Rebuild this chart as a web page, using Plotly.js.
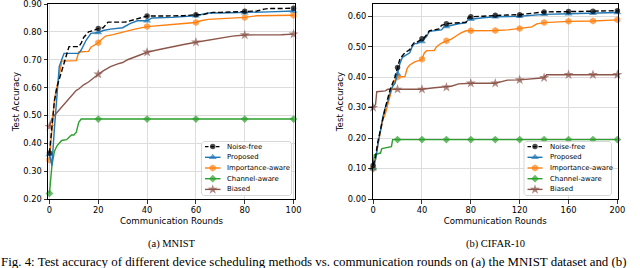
<!DOCTYPE html>
<html>
<head>
<meta charset="utf-8">
<script src="https://cdn.plot.ly/plotly-3.0.1.min.js"></script>
<style>
  html, body { margin: 0; padding: 0; background: #fff; }
  #chart { width: 640px; height: 268px; }
</style>
</head>
<body>
<div id="chart"></div>
<script>
// ---------------- DATA ----------------
var seriesNames = ["Noise-free", "Proposed", "Importance-aware", "Channel-aware", "Biased"];

// (a) MNIST
var mnNoiseX = [0,1,2,3,4,5,6,7,8,12,13,14,15,16,18,20,22,23,24,31,33,35,40,45,50,55,60,63,65,67,70,75,80,85,88,90,95,100];
var mnNoiseY = [0.365,0.45,0.55,0.60,0.63,0.66,0.69,0.72,0.747,0.747,0.76,0.78,0.79,0.80,0.805,0.812,0.815,0.825,0.835,0.835,0.84,0.845,0.857,0.857,0.858,0.858,0.862,0.862,0.867,0.87,0.87,0.872,0.874,0.875,0.882,0.884,0.884,0.885];

var mnPropX = [0,1,2,3,4,5,6,8,10,12,13,15,17,20,22,25,30,33,36,40,42,50,60,62,65,70,80,90,100];
var mnPropY = [0.36,0.32,0.45,0.57,0.675,0.70,0.723,0.723,0.723,0.723,0.735,0.77,0.795,0.798,0.805,0.81,0.815,0.83,0.84,0.84,0.85,0.852,0.858,0.862,0.868,0.868,0.869,0.872,0.875];

var mnImpX = [0,1,2,3,4,5,8,11,12,16,17,20,21,23,26,30,35,40,45,50,55,60,62,65,70,80,85,90,100];
var mnImpY = [0.34,0.45,0.556,0.60,0.64,0.695,0.695,0.697,0.728,0.73,0.745,0.761,0.77,0.785,0.79,0.80,0.81,0.819,0.822,0.826,0.83,0.834,0.84,0.845,0.847,0.852,0.858,0.859,0.86];

var mnChanX = [0,1,2,3,4,5,7,8,9,10,11,12,13,20,40,60,80,100];
var mnChanY = [0.22,0.32,0.37,0.39,0.40,0.41,0.413,0.42,0.43,0.43,0.44,0.475,0.487,0.487,0.487,0.487,0.487,0.487];

var mnBiasX = [0,1,2,3,4,5,6,7,8,9,10,11,12,14,16,18,20,22,25,28,30,32,35,38,40,45,50,55,60,65,70,75,80,90,95,100];
var mnBiasY = [0.46,0.49,0.50,0.51,0.52,0.53,0.54,0.55,0.56,0.57,0.58,0.59,0.595,0.61,0.62,0.635,0.648,0.66,0.675,0.685,0.69,0.70,0.71,0.72,0.727,0.737,0.747,0.755,0.763,0.77,0.778,0.785,0.789,0.789,0.790,0.792];

// (b) CIFAR-10
var cfNoiseX = [0,2,4,6,8,10,12,14,16,18,20,22,24,26,28,30,32,34,36,38,40,42,44,46,50,54,56,60,65,70,76,78,80,90,100,110,120,130,135,140,160,180,200];
var cfNoiseY = [0.11,0.14,0.19,0.23,0.27,0.30,0.33,0.36,0.38,0.40,0.432,0.46,0.47,0.48,0.485,0.49,0.505,0.515,0.515,0.52,0.526,0.53,0.54,0.552,0.555,0.558,0.57,0.575,0.577,0.578,0.58,0.597,0.598,0.60,0.603,0.604,0.605,0.61,0.613,0.614,0.615,0.616,0.618];

var cfPropX = [0,2,4,6,8,10,12,14,16,18,20,22,24,26,28,30,32,34,36,38,40,44,46,50,56,58,60,70,76,78,80,90,100,120,140,160,180,200];
var cfPropY = [0.10,0.13,0.18,0.23,0.27,0.30,0.32,0.35,0.37,0.38,0.41,0.445,0.465,0.47,0.475,0.48,0.50,0.51,0.51,0.515,0.517,0.535,0.55,0.552,0.555,0.565,0.566,0.575,0.578,0.59,0.59,0.595,0.598,0.60,0.606,0.608,0.610,0.612];

var cfImpX = [0,2,4,6,8,10,12,14,16,18,20,26,28,30,32,34,38,40,42,44,50,52,56,60,64,68,72,76,80,100,110,120,130,134,140,160,180,200];
var cfImpY = [0.10,0.13,0.18,0.22,0.26,0.28,0.31,0.34,0.37,0.39,0.40,0.402,0.43,0.44,0.445,0.45,0.455,0.459,0.48,0.487,0.487,0.50,0.512,0.519,0.525,0.535,0.545,0.552,0.552,0.553,0.555,0.56,0.565,0.575,0.579,0.583,0.584,0.588];

var cfChanX = [0,1,2,3,4,5,6,7,8,10,12,14,15,16,20,40,60,80,100,120,140,160,180,200];
var cfChanY = [0.10,0.145,0.145,0.147,0.147,0.15,0.15,0.165,0.166,0.168,0.17,0.172,0.172,0.195,0.195,0.195,0.195,0.195,0.195,0.195,0.195,0.195,0.195,0.195];

var cfBiasX = [0,2,3,10,12,20,40,50,60,64,70,80,100,110,120,130,140,142,160,180,200];
var cfBiasY = [0.30,0.31,0.352,0.355,0.36,0.36,0.36,0.365,0.367,0.37,0.378,0.38,0.38,0.39,0.391,0.395,0.398,0.408,0.408,0.408,0.408];

// tick labels
var mnXTicks = [0,20,40,60,80,100];
var mnYTicks = [0.20,0.30,0.40,0.50,0.60,0.70,0.80,0.90];
var cfXTicks = [0,40,80,120,160,200];
var cfYTicks = [0.00,0.10,0.20,0.30,0.40,0.50,0.60];

var panelCaptions = ["(a) MNIST", "(b) CIFAR-10"];
var figCaption = "Fig. 4: Test accuracy of different device scheduling methods vs. communication rounds on (a) the MNIST dataset and (b)";

// ---------------- STYLE ----------------
var W = 640, H = 268;
var styles = [
  {color: "#000000", symbol: "circle", size: 5.5, dash: "5px,2.5px"},
  {color: "#1f77b4", symbol: "triangle-up", size: 7, dash: "solid"},
  {color: "#ff7f0e", symbol: "hexagon", size: 7, dash: "solid"},
  {color: "#2ca02c", symbol: "diamond", size: 6, dash: "solid"},
  {color: "#8c564b", symbol: "star", size: 7.5, dash: "solid"}
];
var markEvery = 20;

var mnSeries = [[mnNoiseX, mnNoiseY],[mnPropX, mnPropY],[mnImpX, mnImpY],[mnChanX, mnChanY],[mnBiasX, mnBiasY]];
var cfSeries = [[cfNoiseX, cfNoiseY],[cfPropX, cfPropY],[cfImpX, cfImpY],[cfChanX, cfChanY],[cfBiasX, cfBiasY]];

var traces = [];
function addSeries(series, xa, ya) {
  for (var i = series.length - 1; i >= 0; i--) {
    var st = styles[i];
    var xs = series[i][0], ys = series[i][1];
    traces.push({
      type: "scatter", mode: "lines+markers",
      x: xs, y: ys, xaxis: xa, yaxis: ya,
      name: seriesNames[i], showlegend: false, cliponaxis: false,
      line: {color: st.color, width: 1.4, dash: st.dash},
      marker: {color: st.color, symbol: st.symbol,
               size: xs.map(function(v){ return v % markEvery === 0 ? st.size : 0; }),
               line: {width: 0}},
      hoverinfo: "skip"
    });
  }
}
addSeries(mnSeries, "x", "y");
addSeries(cfSeries, "x2", "y2");

// ---------------- manual legends (pixel overlay axis x3/y3) ----------------
var legends = [
  {x0: 201.5, x1: 291.5, y0: 141.5, y1: 195.5, k0: 205, k1: 220.5, tx: 225},
  {x0: 524, x1: 611.5, y0: 141.5, y1: 195.5, k0: 527.5, k1: 542.5, tx: 547.5}
];
var rowY0 = 146.6, rowDY = 10.7;
var annotations = [];
legends.forEach(function(L) {
  var r = 2;
  var bx = [L.x0 + r, L.x1 - r, L.x1, L.x1, L.x1 - r, L.x0 + r, L.x0, L.x0, L.x0 + r];
  var by = [L.y0, L.y0, L.y0 + r, L.y1 - r, L.y1, L.y1, L.y1 - r, L.y0 + r, L.y0];
  traces.push({type: "scatter", mode: "lines", x: bx, y: by, xaxis: "x3", yaxis: "y3",
    fill: "toself", fillcolor: "rgba(255,255,255,0.85)", line: {color: "#cccccc", width: 0.8},
    showlegend: false, hoverinfo: "skip"});
  for (var i = 0; i < seriesNames.length; i++) {
    var st = styles[i];
    var yy = rowY0 + i * rowDY;
    var km = (L.k0 + L.k1) / 2;
    traces.push({type: "scatter", mode: "lines+markers",
      x: [L.k0, km, L.k1], y: [yy, yy, yy], xaxis: "x3", yaxis: "y3",
      line: {color: st.color, width: 1.4, dash: i === 0 ? "3.5px,2px" : "solid"},
      marker: {color: st.color, symbol: st.symbol, size: [0, st.size, 0], line: {width: 0}},
      showlegend: false, hoverinfo: "skip", cliponaxis: false});
    annotations.push({xref: "x3", yref: "y3", x: L.tx, y: yy, text: seriesNames[i],
      xanchor: "left", yanchor: "middle", showarrow: false,
      font: {family: "DejaVu Sans", size: 6.9, color: "#000"}});
  }
});

// captions
annotations.push({xref: "paper", yref: "paper", x: 171.5 / W, y: 1 - 244.3 / H, text: panelCaptions[0],
  xanchor: "center", yanchor: "middle", showarrow: false,
  font: {family: "Liberation Serif", size: 10.5, color: "#000"}});
annotations.push({xref: "paper", yref: "paper", x: 495 / W, y: 1 - 244.3 / H, text: panelCaptions[1],
  xanchor: "center", yanchor: "middle", showarrow: false,
  font: {family: "Liberation Serif", size: 10.5, color: "#000"}});
annotations.push({xref: "paper", yref: "paper", x: 0, y: -2 / H, text: figCaption,
  xanchor: "left", yanchor: "bottom", showarrow: false, borderpad: 0,
  font: {family: "Liberation Serif", size: 12.9, color: "#000"}});

// ---------------- LAYOUT ----------------
var tickFont = {family: "DejaVu Sans", size: 8.3, color: "#000"};
var titleFont = {family: "DejaVu Sans", size: 8.7, color: "#000"};
function axisBase() {
  return {
    showline: true, mirror: true, linecolor: "#000", linewidth: 1,
    ticks: "outside", ticklen: 3.5, tickwidth: 0.8, tickcolor: "#000",
    showgrid: true, gridcolor: "#dcdcdc", gridwidth: 1,
    zeroline: false, tickfont: tickFont, tickmode: "array", fixedrange: true,
    ticklabeloverflow: "allow"
  };
}
var yTop = 1 - 4 / H, yBot = 1 - 199 / H;

var xa1 = Object.assign(axisBase(), {domain: [48 / W, 295 / W], range: [-0.6, 100.6], anchor: "y",
  tickvals: mnXTicks, ticktext: mnXTicks.map(String),
  title: {text: "Communication Rounds", font: titleFont, standoff: 3}});
var ya1 = Object.assign(axisBase(), {domain: [yBot, yTop], range: [0.2, 0.9002], anchor: "x",
  tickvals: mnYTicks, ticktext: mnYTicks.map(function(v){ return v.toFixed(2); }),
  title: {text: "Test Accuracy", font: titleFont, standoff: 2}});
var xa2 = Object.assign(axisBase(), {domain: [372.5 / W, 618 / W], range: [-0.5, 200.5], anchor: "y2",
  tickvals: cfXTicks, ticktext: cfXTicks.map(String),
  title: {text: "Communication Rounds", font: titleFont, standoff: 3}});
var ya2 = Object.assign(axisBase(), {domain: [yBot, yTop], range: [0, 0.64], anchor: "x2",
  tickvals: cfYTicks, ticktext: cfYTicks.map(function(v){ return v.toFixed(2); }),
  title: {text: "Test Accuracy", font: titleFont, standoff: 2}});

var layout = {
  width: W, height: H,
  margin: {l: 0, r: 0, t: 0, b: 0, pad: 0},
  paper_bgcolor: "#ffffff", plot_bgcolor: "rgba(0,0,0,0)",
  showlegend: false,
  xaxis: xa1, yaxis: ya1, xaxis2: xa2, yaxis2: ya2,
  xaxis3: {domain: [0, 1], range: [0, W], visible: false, anchor: "y3", fixedrange: true},
  yaxis3: {domain: [0, 1], range: [H, 0], visible: false, anchor: "x3", fixedrange: true},
  annotations: annotations,
  font: {family: "DejaVu Sans", color: "#000"}
};

Plotly.newPlot("chart", traces, layout, {staticPlot: true, displayModeBar: false});
</script>
</body>
</html>
